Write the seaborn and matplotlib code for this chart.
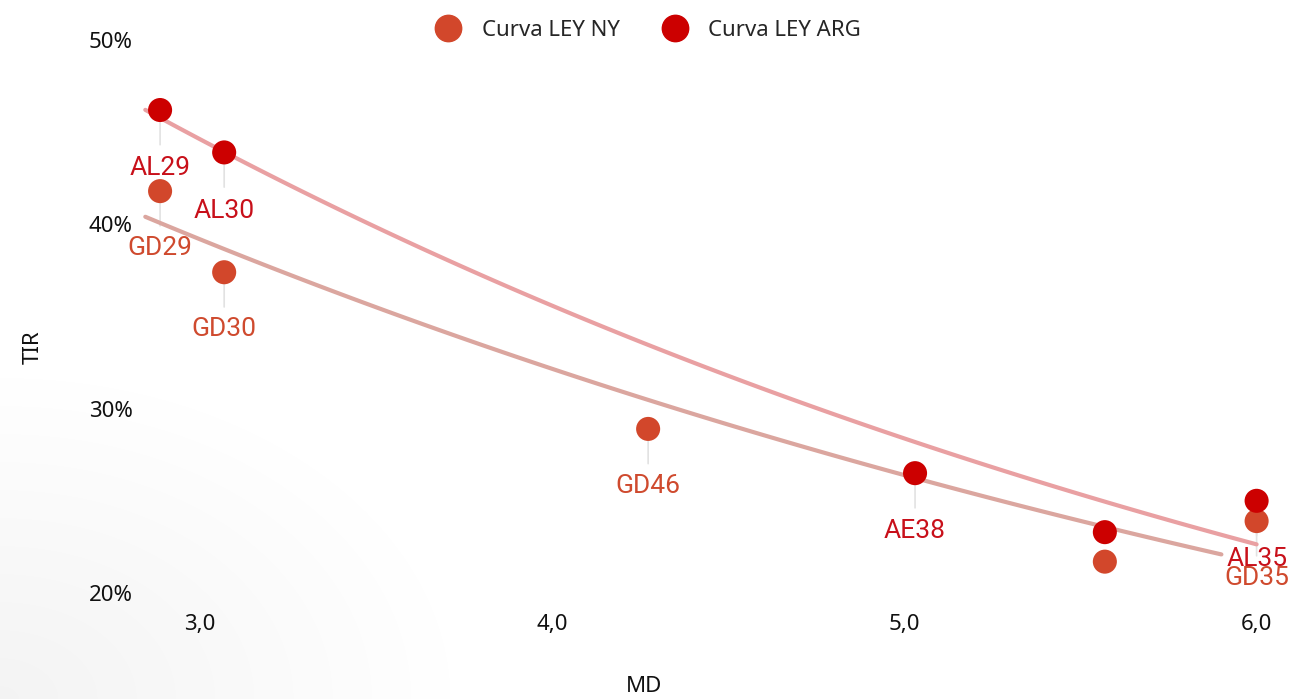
import numpy as np
import pandas as pd
import seaborn as sns
import matplotlib.pyplot as plt
import matplotlib.lines as mlines

sns.set_style("white")
plt.rcParams['font.family'] = ['Noto Sans', 'DejaVu Sans']

# bonos ley NY
ny_names = ["GD29", "GD30", "GD46", "GD38", "GD35"]
ny_md = [2.886, 3.068, 4.272, 5.569, 6.0]
ny_tir = [41.8, 37.4, 28.9, 21.7, 23.9]

# bonos ley ARG
arg_names = ["AL29", "AL30", "AE38", "AL38", "AL35"]
arg_md = [2.886, 3.068, 5.03, 5.569, 6.0]
arg_tir = [46.2, 43.9, 26.5, 23.3, 25.0]
# which ones get a label on the chart
ny_show = [True, True, True, False, True]
arg_show = [True, True, True, False, True]

ny_color = "#d2472b"
arg_color = "#cc0000"

ny = pd.DataFrame({"MD": ny_md, "TIR": ny_tir, "bono": ny_names, "ley": "Curva LEY NY"})
arg = pd.DataFrame({"MD": arg_md, "TIR": arg_tir, "bono": arg_names, "ley": "Curva LEY ARG"})
df = pd.concat([ny, arg], ignore_index=True)

fig = plt.figure(figsize=(12.91, 6.99), dpi=100)

# faint grey shading in the lower-left corner, like the slide background
H, W = 699, 1291
yy, xx = np.mgrid[0:H, 0:W]
dist = np.sqrt((xx * 1.0) ** 2 + ((H - yy) * 1.4) ** 2)
shade = 1 - 0.045 * np.clip(1 - dist / 450, 0, 1)
fig.figimage(np.dstack([shade] * 3), xo=0, yo=0, origin="upper", zorder=-5)

ax = fig.add_axes([0.106, 0.1253, 0.881, 0.8307])
ax.set_zorder(1)
ax.patch.set_alpha(0)

# exponential trend lines (weighted fit of log TIR vs MD)
def trend(d, x0, x1):
    b, a = np.polyfit(d["MD"], np.log(d["TIR"]), 1, w=d["TIR"])
    xs = np.linspace(x0, x1, 100)
    return pd.DataFrame({"MD": xs, "TIR": np.exp(a + b * xs)})

tr_ny = trend(ny, 2.844, 5.90)
tr_arg = trend(arg, 2.844, 6.0)
sns.lineplot(data=tr_arg, x="MD", y="TIR", color="#e9a0a2", lw=3, ax=ax, zorder=2)
sns.lineplot(data=tr_ny, x="MD", y="TIR", color="#dba69f", lw=3, ax=ax, zorder=2)

sns.scatterplot(data=df, x="MD", y="TIR", hue="ley",
                palette={"Curva LEY NY": ny_color, "Curva LEY ARG": arg_color},
                s=300, edgecolor="none", legend=False, ax=ax, zorder=4)

# labels below each point with a thin leader line
def labels(d, show, col, dy=-41):
    for (_, r), sh in zip(d.iterrows(), show):
        if not sh:
            continue
        ax.annotate("", xy=(r.MD, r.TIR), xytext=(0, -25), textcoords="offset points",
                    arrowprops=dict(arrowstyle="-", color="#e2e2e2", lw=1.2,
                                    shrinkA=0, shrinkB=0), zorder=1)
        ax.annotate(r.bono, xy=(r.MD, r.TIR), xytext=(0, dy), textcoords="offset points",
                    ha="center", va="center", fontsize=19, color=col,
                    family=["Roboto", "DejaVu Sans"], zorder=5)

labels(ny, ny_show, "#cf4a2e")
labels(arg, arg_show, "#c8101a", dy=-42)

ax.set_xlim(2.82, 6.05)
ax.set_ylim(19, 50.5)
ax.set_xticks([3, 4, 5, 6])
ax.set_xticklabels(["3,0", "4,0", "5,0", "6,0"])
ax.set_yticks([20, 30, 40, 50])
ax.set_yticklabels(["20%", "30%", "40%", "50%"])
ax.tick_params(axis="both", length=0, labelsize=16, colors="#111111")
ax.tick_params(axis="y", pad=3)
ax.tick_params(axis="x", pad=2)
sns.despine(ax=ax, left=True, bottom=True)

ax.set_xlabel("")
ax.set_ylabel("")
fig.text(0.4985, 0.018, "MD", ha="center", va="center", fontsize=16, color="#111111")
fig.text(0.026, 0.503, "TIR", ha="center", va="center", rotation=90, fontsize=16, color="#111111")

h_ny = mlines.Line2D([], [], color=ny_color, marker="o", ls="", markersize=19)
h_arg = mlines.Line2D([], [], color=arg_color, marker="o", ls="", markersize=19)
fig.legend([h_ny, h_arg], ["Curva LEY NY", "Curva LEY ARG"], loc="center",
           bbox_to_anchor=(0.4985, 0.957), ncol=2, frameon=False, fontsize=16,
           handletextpad=0.5, columnspacing=1.5)

fig.savefig("out.png", dpi=100)
